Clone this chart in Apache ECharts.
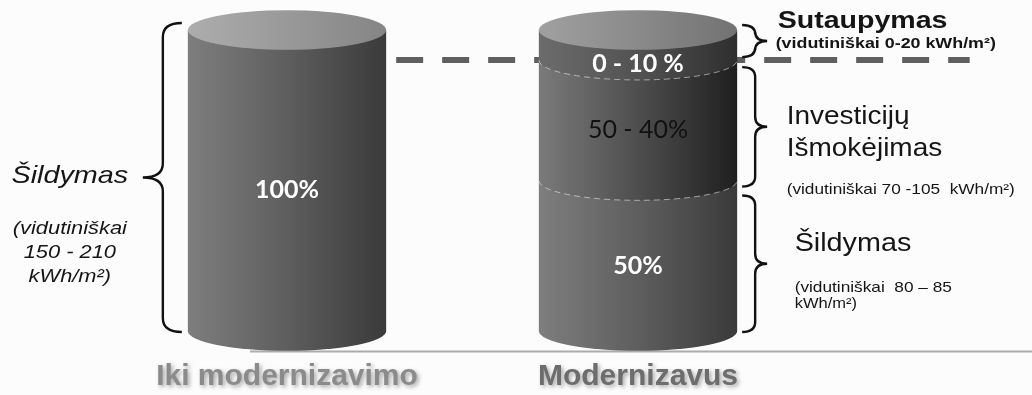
<!DOCTYPE html>
<html>
<head>
<meta charset="utf-8">
<script src="https://cdn.jsdelivr.net/npm/echarts@6/dist/echarts.min.js"></script>
<style>
  html, body { margin: 0; padding: 0; background: #fcfcfc; }
  #chart { width: 1032px; height: 395px; }
</style>
</head>
<body>
<div id="chart"></div>
<script>
// Shares of the pre-renovation heating bill, in %
const categories = ['Iki modernizavimo', 'Modernizavus'];
const heatingShare = [100, 50];
const repaymentShare = [0, 40];
const savingsShare = [0, 10];
const repaymentLabels = ['', '50 - 40%'];
const savingsLabels = ['', '0 - 10 %'];

// Explanatory notes next to the columns
const heatingBeforeNote = ['Šildymas', '(vidutiniškai', '150 - 210', 'kWh/m²)'];
const savingsNote = ['Sutaupymas', '(vidutiniškai 0-20 kWh/m²)'];
const repaymentNote = ['Investicijų', 'Išmokėjimas', '(vidutiniškai 70 -105  kWh/m²)'];
const heatingAfterNote = ['Šildymas', '(vidutiniškai  80 – 85', 'kWh/m²)'];

const totals = categories.map((_, i) => heatingShare[i] + repaymentShare[i] + savingsShare[i]);

const BODY_RATIO = 0.565;   // column width as a share of the category band
const TILT = 0.2;           // ellipse ry / rx
const SANS = '"Liberation Sans", Arial, sans-serif';
const LABEL_FONT = 'Lato, "Open Sans", sans-serif';

const grad = (stops) => new echarts.graphic.LinearGradient(0, 0, 1, 0,
  stops.map((c, k) => ({ offset: k / (stops.length - 1), color: c })));

const ellipsePath = (cx, cy, rx, ry) =>
  `M${cx - rx} ${cy}A${rx} ${ry} 0 0 0 ${cx + rx} ${cy}A${rx} ${ry} 0 0 0 ${cx - rx} ${cy}Z`;

const layers = [
  {
    name: 'Šildymas', values: heatingShare,
    labels: heatingShare.map(v => v + '%'),
    side: ['#7e7e7e', '#5e5e5e', '#3a3a3a'], cap: ['#adadad', '#999999', '#858585'],
    text: { fill: '#ffffff', fontWeight: 'bold' }
  },
  {
    name: 'Investicijų išmokėjimas', values: repaymentShare, labels: repaymentLabels,
    side: ['#7a7a7a', '#4e4e4e', '#1f1f1f'], cap: ['#a0a0a0', '#8a8a8a', '#747474'],
    text: { fill: '#111111', fontWeight: 'normal' }
  },
  {
    name: 'Sutaupymas', values: savingsShare, labels: savingsLabels,
    side: ['#6c6c6c', '#525252', '#2e2e2e'], cap: ['#a0a0a0', '#8a8a8a', '#727272'],
    text: { fill: '#ffffff', fontWeight: 'bold' }
  }
];

// stacked [category, from, to] ranges for each layer
const bases = categories.map(() => 0);
const layerData = layers.map(layer => categories.map((_, i) => {
  const from = bases[i];
  bases[i] += layer.values[i];
  return [i, from, bases[i]];
}));

function cylinderRenderer(layer) {
  return function (params, api) {
    const idx = api.value(0), lo = api.value(1), hi = api.value(2);
    if (!(hi > lo)) return null;
    const pb = api.coord([idx, lo]);
    const pt = api.coord([idx, hi]);
    const rx = api.size([1, 0])[0] * BODY_RATIO / 2;
    const ry = rx * TILT;
    const cx = pb[0], x0 = cx - rx, x1 = cx + rx, yb = pb[1], yt = pt[1];
    const children = [{
      type: 'path',
      shape: { pathData: `M${x0} ${yt}L${x0} ${yb}A${rx} ${ry} 0 0 0 ${x1} ${yb}L${x1} ${yt}Z` },
      style: { fill: grad(layer.side) }
    }];
    if (lo > 0) {
      children.push({
        type: 'path',
        shape: { pathData: `M${x0} ${yb}A${rx} ${ry} 0 0 0 ${x1} ${yb}` },
        style: { fill: 'none', stroke: 'rgba(255,255,255,0.5)', lineWidth: 1, lineDash: [6, 4] }
      });
    }
    const isTop = hi >= totals[idx];
    if (isTop) {
      children.push({
        type: 'path',
        shape: { pathData: ellipsePath(cx, yt, rx, ry) },
        style: { fill: grad(layer.cap) }
      });
    }
    let ty = (yt + yb) / 2 + ry / 2;
    if (isTop) ty = Math.max(ty, yt + ry + 14);
    children.push({
      type: 'text', x: cx, y: ty,
      style: Object.assign({
        text: layer.labels[idx], fontSize: 25, fontFamily: LABEL_FONT,
        align: 'center', verticalAlign: 'middle'
      }, layer.text)
    });
    return { type: 'group', children };
  };
}

// Dashed level: the new bill (heating + repayment) carried across from the first column
const levelData = [[1, heatingShare[1] + repaymentShare[1]]];

function levelRenderer(params, api) {
  const v = api.value(1);
  const band = api.size([1, 0])[0];
  const rx = band * BODY_RATIO / 2;
  const y = api.coord([1, v])[1];
  const xs = api.coord([0, v])[0] + rx + 10;
  const xe = api.coord([1, v])[0] + band * 0.945;
  return {
    type: 'line',
    shape: { x1: xs, y1: y, x2: xe, y2: y },
    style: { stroke: '#606060', lineWidth: 6, lineDash: [27, 19] }
  };
}

// Notes: [category, from, to, note index]
const noteData = [
  [0, 0, totals[0], 0],
  [1, heatingShare[1] + repaymentShare[1], totals[1], 1],
  [1, heatingShare[1], heatingShare[1] + repaymentShare[1], 2],
  [1, 0, heatingShare[1], 3]
];

const noteLayouts = [
  { texts: heatingBeforeNote, side: -1, padTop: -7, padBottom: 1, tip: 6, spine: 25, point: 45, r: 14,
    lines: [
      { dx: -118, dy: -1.5, size: 24, style: 'italic', align: 'center', scale: 1.2 },
      { dx: -118, dy: 51.5, size: 19, style: 'italic', align: 'center', scale: 1.15 },
      { dx: -118, dy: 75.5, size: 19, style: 'italic', align: 'center', scale: 1.15 },
      { dx: -118, dy: 99.5, size: 19, style: 'italic', align: 'center', scale: 1.15 }
    ] },
  { texts: savingsNote, side: 1, padTop: -5, padBottom: -3, tip: 5, spine: 18, point: 30, r: 9,
    lines: [
      { dx: 40.5, dy: -20, size: 24, weight: 'bold', scale: 1.19 },
      { dx: 38.5, dy: 3, size: 15, weight: 'bold', scale: 1.19 }
    ] },
  { texts: repaymentNote, side: 1, padTop: 7, padBottom: 6, tip: 5, spine: 18, point: 30, r: 10,
    lines: [
      { dx: 49.5, dy: -10, size: 25, scale: 1.12 },
      { dx: 49.5, dy: 22, size: 25, scale: 1.12 },
      { dx: 49.5, dy: 63, size: 15, scale: 1.15 }
    ] },
  { texts: heatingAfterNote, side: 1, padTop: 15, padBottom: 1, tip: 5, spine: 18, point: 30, r: 10,
    lines: [
      { dx: 57.5, dy: -20, size: 25, scale: 1.15 },
      { dx: 57.5, dy: 24, size: 15, scale: 1.15 },
      { dx: 57.5, dy: 40, size: 15, scale: 1.1 }
    ] }
];

function bracePath(xTip, xSpine, xPoint, y0, y1, r) {
  const ym = (y0 + y1) / 2;
  return `M${xTip} ${y0}Q${xSpine} ${y0} ${xSpine} ${y0 + r}` +
    `L${xSpine} ${ym - r}Q${xSpine} ${ym} ${xPoint} ${ym}` +
    `Q${xSpine} ${ym} ${xSpine} ${ym + r}L${xSpine} ${y1 - r}Q${xSpine} ${y1} ${xTip} ${y1}`;
}

function noteRenderer(params, api) {
  const idx = api.value(0), lo = api.value(1), hi = api.value(2);
  const note = noteLayouts[api.value(3)];
  const rx = api.size([1, 0])[0] * BODY_RATIO / 2;
  const cx = api.coord([idx, lo])[0];
  const edge = cx + note.side * rx;
  const y0 = api.coord([idx, hi])[1] + note.padTop;
  const y1 = api.coord([idx, lo])[1] + note.padBottom;
  const ym = (y0 + y1) / 2;
  const s = note.side;
  const children = [{
    type: 'path',
    shape: { pathData: bracePath(edge + s * note.tip, edge + s * note.spine, edge + s * note.point, y0, y1, note.r) },
    style: { fill: 'none', stroke: '#111111', lineWidth: 2.4 }
  }];
  note.lines.forEach((ln, k) => {
    children.push({
      type: 'text',
      x: edge + s * Math.abs(ln.dx), y: ym + ln.dy,
      scaleX: ln.scale,
      style: {
        text: note.texts[k], fill: '#151515',
        fontSize: ln.size, fontFamily: SANS,
        fontWeight: ln.weight || 'normal', fontStyle: ln.style || 'normal',
        align: ln.align || 'left', verticalAlign: 'middle'
      }
    });
  });
  return { type: 'group', children };
}

const chart = echarts.init(document.getElementById('chart'), null, { renderer: 'canvas' });

chart.setOption({
  backgroundColor: '#fcfcfc',
  animation: false,
  grid: { left: 111.5, right: 218.5, top: 30, bottom: 64 },
  xAxis: {
    type: 'category',
    data: categories,
    axisLine: { show: false },
    axisTick: { show: false },
    splitLine: { show: false },
    axisLabel: {
      margin: 29,
      formatter: (v, i) => `{c${i}|${v}}`,
      rich: {
        c0: { fontSize: 30, fontWeight: 'bold', fontFamily: SANS, color: '#8b8b8b', lineHeight: 34,
              textShadowColor: 'rgba(0,0,0,0.35)', textShadowBlur: 4, textShadowOffsetX: 2, textShadowOffsetY: 2 },
        c1: { fontSize: 30, fontWeight: 'bold', fontFamily: SANS, color: '#6d6d6d', lineHeight: 34,
              textShadowColor: 'rgba(0,0,0,0.35)', textShadowBlur: 4, textShadowOffsetX: 2, textShadowOffsetY: 2 }
      }
    }
  },
  yAxis: { type: 'value', min: 0, max: 100, show: false },
  graphic: [{
    type: 'line', z: 0,
    shape: { x1: 250, y1: 351.5, x2: 1032, y2: 351.5 },
    style: { stroke: '#acacac', lineWidth: 2 }
  }],
  series: [
    {
      type: 'custom', name: 'Lygis', z: 1, silent: true,
      renderItem: levelRenderer, data: levelData,
      encode: { x: 0, y: 1 }
    },
    ...layers.map((layer, k) => ({
      type: 'custom', name: layer.name, z: 2 + k,
      renderItem: cylinderRenderer(layer),
      data: layerData[k],
      encode: { x: 0, y: [1, 2] }
    })),
    {
      type: 'custom', name: 'Paaiškinimai', z: 6, silent: true,
      renderItem: noteRenderer, data: noteData,
      encode: { x: 0, y: [1, 2] }
    }
  ]
});
</script>
</body>
</html>
